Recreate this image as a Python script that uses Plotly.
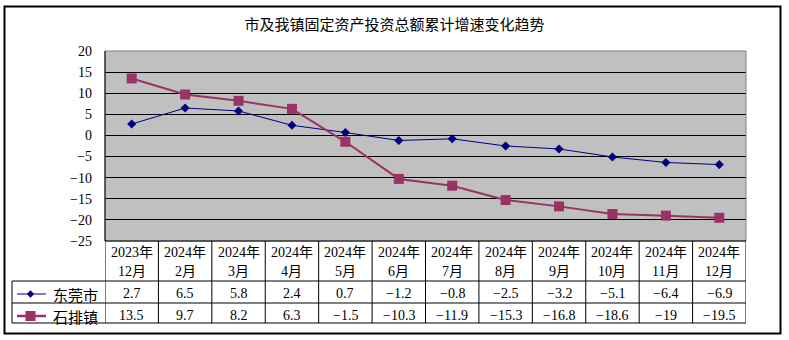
import plotly.graph_objects as go

# ---------------- data ----------------
years = ["2023年", "2024年", "2024年", "2024年", "2024年", "2024年",
         "2024年", "2024年", "2024年", "2024年", "2024年", "2024年"]
months = ["12月", "2月", "3月", "4月", "5月", "6月",
          "7月", "8月", "9月", "10月", "11月", "12月"]
dongguan = [2.7, 6.5, 5.8, 2.4, 0.7, -1.2, -0.8, -2.5, -3.2, -5.1, -6.4, -6.9]
shipai = [13.5, 9.7, 8.2, 6.3, -1.5, -10.3, -11.9, -15.3, -16.8, -18.6, -19, -19.5]
series_names = ["东莞市", "石排镇"]
title_text = "市及我镇固定资产投资总额累计增速变化趋势"
y_ticks = [20, 15, 10, 5, 0, -5, -10, -15, -20, -25]

# ---------------- layout geometry (pixels) ----------------
WIDTH, HEIGHT = 789, 340
L, R, T, B = 105, 746, 51, 241
PW, PH = R - L, B - T

def px(x):
    return (x - L) / PW

def py(y):
    return (B - y) / PH

NAVY = "#000080"
PLUM = "#993366"
NUM_FONT = "Liberation Serif, Noto Sans CJK SC"
CJK_FONT = "Noto Sans CJK SC"

n = len(months)
xs = list(range(n))

fig = go.Figure()
fig.add_trace(go.Scatter(
    x=xs, y=dongguan, name=series_names[0], mode="lines+markers",
    line=dict(color=NAVY, width=1),
    marker=dict(symbol="diamond", size=7, color=NAVY),
    cliponaxis=False, showlegend=False))
fig.add_trace(go.Scatter(
    x=xs, y=shipai, name=series_names[1], mode="lines+markers",
    line=dict(color=PLUM, width=2),
    marker=dict(symbol="square", size=10, color=PLUM),
    cliponaxis=False, showlegend=False))

shapes = []
line_blk = dict(color="black", width=1)
# plot area border (gray)
shapes.append(dict(type="rect", xref="paper", yref="paper", x0=0, x1=1, y0=0, y1=1,
                   line=dict(color="#808080", width=1), layer="above"))
# left axis line black
shapes.append(dict(type="line", xref="paper", yref="paper", x0=0, x1=0, y0=0, y1=1,
                   line=line_blk, layer="above"))
# outer border
shapes.append(dict(type="rect", xref="paper", yref="paper",
                   x0=px(4.5), x1=px(780.5), y0=py(333.5), y1=py(6.5),
                   line=dict(color="black", width=2)))
# table horizontal lines
shapes.append(dict(type="line", xref="paper", yref="paper", x0=0, x1=1, y0=py(241), y1=py(241), line=line_blk))
for yy in (281, 303, 323):
    shapes.append(dict(type="line", xref="paper", yref="paper", x0=px(12), x1=1,
                       y0=py(yy), y1=py(yy), line=line_blk))
# table vertical lines
shapes.append(dict(type="line", xref="paper", yref="paper", x0=px(12), x1=px(12),
                   y0=py(281), y1=py(323), line=line_blk))
for i in range(n + 1):
    shapes.append(dict(type="line", xref="x", yref="paper", x0=i - 0.5, x1=i - 0.5,
                       y0=py(241), y1=py(323), line=line_blk))

# legend samples inside table
row_y = [294, 316]
for ry, col, w in ((row_y[0], NAVY, 1), (row_y[1], PLUM, 2.5)):
    shapes.append(dict(type="line", xref="paper", yref="paper", x0=px(17), x1=px(46),
                       y0=py(ry), y1=py(ry), line=dict(color=col, width=w)))
# diamond marker
cx, cy, d = 30.5, row_y[0], 3.5
shapes.append(dict(type="path", xref="paper", yref="paper",
                   path=f"M{px(cx-d)},{py(cy)} L{px(cx)},{py(cy-d)} L{px(cx+d)},{py(cy)} L{px(cx)},{py(cy+d)} Z",
                   fillcolor=NAVY, line=dict(color=NAVY, width=0.5)))
# square marker
cx, cy, s = 30.5, row_y[1], 5
shapes.append(dict(type="rect", xref="paper", yref="paper",
                   x0=px(cx - s), x1=px(cx + s), y0=py(cy + s), y1=py(cy - s),
                   fillcolor=PLUM, line=dict(color=PLUM, width=0)))

annotations = []
def fmt(v):
    return f"{v:g}".replace("-", "−")

for i in range(n):
    annotations.append(dict(x=i, y=py(252.5), xref="x", yref="paper", text=years[i],
                            showarrow=False, font=dict(family=NUM_FONT, size=14, color="black"),
                            xanchor="center", yanchor="middle"))
    annotations.append(dict(x=i, y=py(271), xref="x", yref="paper", text=months[i],
                            showarrow=False, font=dict(family=NUM_FONT, size=14, color="black"),
                            xanchor="center", yanchor="middle"))
    annotations.append(dict(x=i, y=py(293.5), xref="x", yref="paper", text=fmt(dongguan[i]),
                            showarrow=False, font=dict(family=NUM_FONT, size=14, color="black"),
                            xanchor="center", yanchor="middle"))
    annotations.append(dict(x=i, y=py(315), xref="x", yref="paper", text=fmt(shipai[i]),
                            showarrow=False, font=dict(family=NUM_FONT, size=14, color="black"),
                            xanchor="center", yanchor="middle"))
for name, ry in zip(series_names, row_y):
    annotations.append(dict(x=px(75), y=py(ry), xref="paper", yref="paper", text=name,
                            showarrow=False, font=dict(family=CJK_FONT, size=15, color="black"),
                            xanchor="center", yanchor="middle"))

fig.update_layout(
    width=WIDTH, height=HEIGHT,
    margin=dict(l=L, r=WIDTH - R, t=T, b=HEIGHT - B, pad=0),
    paper_bgcolor="white", plot_bgcolor="#C0C0C0",
    title=dict(text=title_text, x=0.5, xanchor="center", y=1 - 25 / HEIGHT, yanchor="middle",
               font=dict(family=CJK_FONT, size=15, color="black")),
    xaxis=dict(range=[-0.5, n - 0.5], showgrid=False, zeroline=False, showticklabels=False,
               showline=False, fixedrange=True),
    yaxis=dict(range=[-25, 20], tickvals=y_ticks, showgrid=True, gridcolor="black", gridwidth=1,
               zeroline=False, showline=False, ticks="", ticklabelstandoff=12,
               tickfont=dict(family=NUM_FONT, size=14, color="black"), fixedrange=True),
    shapes=shapes, annotations=annotations,
)

fig.write_html("out.html", config={"displayModeBar": False})
